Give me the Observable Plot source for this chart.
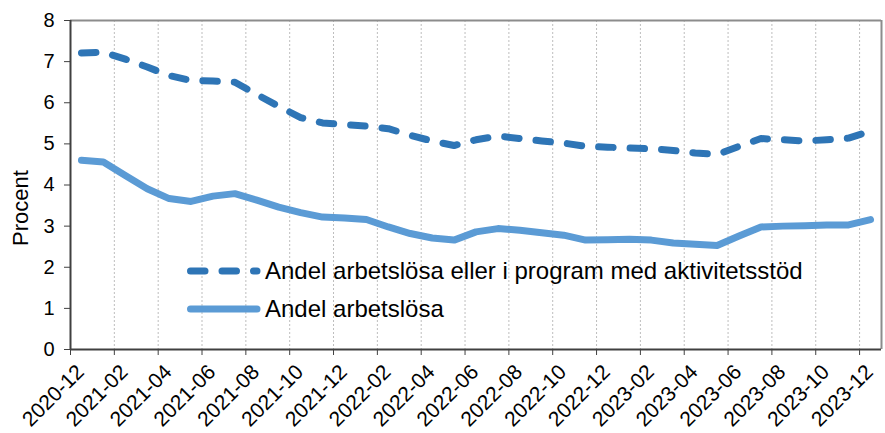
<!DOCTYPE html>
<html><head><meta charset="utf-8">
<script src="https://cdn.jsdelivr.net/npm/d3@7"></script>
<script src="https://cdn.jsdelivr.net/npm/@observablehq/plot@0.6"></script>
<style>
body{margin:0;background:#fff;font-family:"Liberation Sans",Arial,sans-serif;}
#wrap{position:relative;width:885px;height:433px;overflow:hidden;}
.legend{position:absolute;left:187px;top:252px;font-size:24px;color:#000;line-height:38px;white-space:nowrap;}
.legend div{display:flex;align-items:center;height:38px;}
.legend svg{margin-right:4px;}
</style></head><body><div id="wrap"></div>
<script>
const months = ["2020-12","2021-01","2021-02","2021-03","2021-04","2021-05","2021-06","2021-07","2021-08","2021-09","2021-10","2021-11","2021-12",
"2022-01","2022-02","2022-03","2022-04","2022-05","2022-06","2022-07","2022-08","2022-09","2022-10","2022-11","2022-12",
"2023-01","2023-02","2023-03","2023-04","2023-05","2023-06","2023-07","2023-08","2023-09","2023-10","2023-11","2023-12"];
const andelProgram = [7.21,7.23,7.06,6.87,6.66,6.54,6.53,6.50,6.20,5.91,5.64,5.51,5.47,5.43,5.37,5.21,5.07,4.96,5.10,5.19,5.13,5.07,5.02,4.94,4.92,4.90,4.88,4.84,4.78,4.74,4.94,5.13,5.10,5.07,5.10,5.14,5.31];
const andelArbetslosa = [4.60,4.56,4.23,3.91,3.67,3.60,3.73,3.79,3.63,3.46,3.33,3.22,3.20,3.16,2.98,2.82,2.71,2.66,2.86,2.94,2.90,2.84,2.78,2.66,2.67,2.68,2.66,2.59,2.56,2.53,2.76,2.98,3.00,3.01,3.03,3.03,3.16];
const seriesNames = ["Andel arbetslösa eller i program med aktivitetsstöd","Andel arbetslösa"];
const yTicks = [0,1,2,3,4,5,6,7,8];
const xTickIdx = months.map((m,i)=>i).filter(i=>i%2===0);

const rowsProgram = andelProgram.map((v,i)=>({i, month: months[i], value: v}));
const rowsArb = andelArbetslosa.map((v,i)=>({i, month: months[i], value: v}));
const colDash = "#2e75b6", colSolid = "#5b9bd5";

const chart = Plot.plot({
  width: 885, height: 433,
  marginLeft: 70, marginRight: 4, marginTop: 20, marginBottom: 84,
  style: {fontFamily: "'Liberation Sans', Arial, sans-serif", fontSize: "20px", color: "#000", background: "#fff"},
  x: {domain: [0, months.length], axis: null},
  y: {domain: [0, 8], axis: null},
  marks: [
    Plot.gridX(xTickIdx.filter(i=>i>0), {stroke: "#bdbdbd", strokeOpacity: 1, strokeDasharray: "2,2", strokeWidth: 1}),
    Plot.ruleY([yTicks[yTicks.length-1]], {stroke: "#8c8c8c", strokeWidth: 2}),
    Plot.ruleX([months.length], {stroke: "#8c8c8c", strokeWidth: 2}),
    Plot.axisY({ticks: yTicks, tickSize: 6, tickPadding: 10, stroke: "#404040", fill: "#000", fontSize: 20, label: null}),
    Plot.axisX({ticks: xTickIdx, tickSize: 6, tickFormat: () => "", stroke: "#404040", label: null}),
    Plot.axisX({ticks: xTickIdx, tickSize: 0, tickPadding: 19, tickRotate: -45, dx: 10, fontSize: 21, fill: "#000", tickFormat: i => months[i], label: null}),
    Plot.ruleX([0], {stroke: "#404040", strokeWidth: 2}),
    Plot.ruleY([0], {stroke: "#404040", strokeWidth: 2}),
    Plot.line(rowsArb, {x: d => d.i + 0.5, y: "value", stroke: colSolid, strokeWidth: 7, strokeLinejoin: "round", strokeLinecap: "round"}),
    Plot.line(rowsProgram, {x: d => d.i + 0.5, y: "value", stroke: colDash, strokeWidth: 7, strokeDasharray: "14.5,17", strokeLinejoin: "round", strokeLinecap: "round"}),
    Plot.text(["Procent"], {frameAnchor: "left", rotate: -90, dx: -50, dy: 23, fontSize: 22, fill: "#000", textAnchor: "middle"})
  ]
});
const wrap = document.getElementById("wrap");
wrap.appendChild(chart);
const leg = document.createElement("div");
leg.className = "legend";
leg.innerHTML =
  `<div><svg width="74" height="10"><line x1="3.5" x2="70" y1="5" y2="5" stroke="${colDash}" stroke-width="7" stroke-linecap="round" stroke-dasharray="14.5,17"/></svg><span>${seriesNames[0]}</span></div>` +
  `<div><svg width="74" height="10"><line x1="3.5" x2="70" y1="5" y2="5" stroke="${colSolid}" stroke-width="7" stroke-linecap="round"/></svg><span>${seriesNames[1]}</span></div>`;
wrap.appendChild(leg);
</script></body></html>
